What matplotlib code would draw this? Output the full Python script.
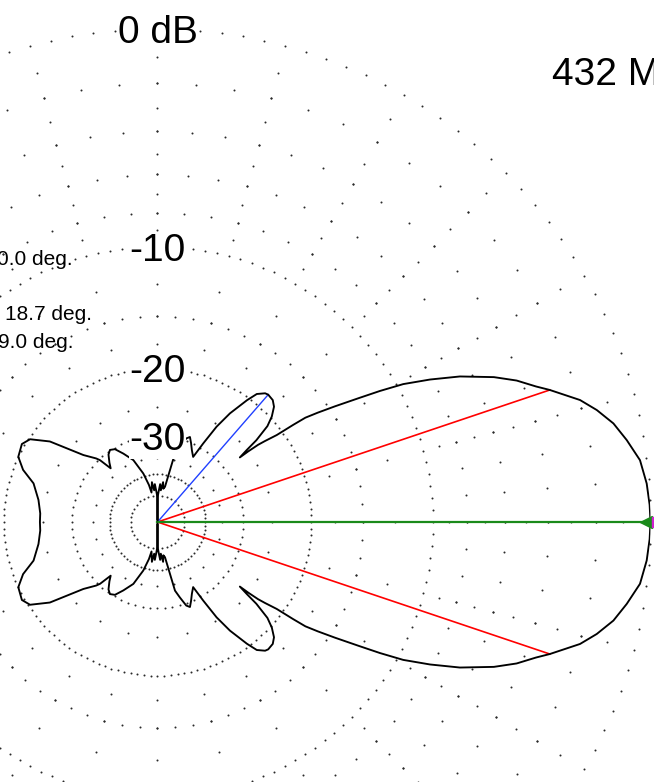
import numpy as np
import matplotlib
matplotlib.use("Agg")
import matplotlib.pyplot as plt
from matplotlib.transforms import offset_copy

plt.rcParams['font.family'] = ['Liberation Sans', 'DejaVu Sans']

# ---------------- data ----------------
# azimuth pattern (upper half, 0..180 deg), mirrored for the lower half
az_deg = [0, 2, 4.5, 7.3, 9.9, 12.2, 14.3, 16.1, 18.6, 19.7, 21.5, 23.3, 25.7,
          27.6, 29.3, 30.5, 31.6, 33.1, 34.3, 35.2, 35.6, 36.1, 37.0, 37.5,
          37.9, 38.1, 38.9, 39.6, 41.1, 42.7, 44.7, 46.6, 49.0, 50.1, 52.2,
          53.7, 56.3, 58.2, 59.8, 61.3, 64.4, 67.0, 69.1, 71.0, 73.5, 75.7,
          76.5, 78.0, 80.0, 82.0, 84.0, 86.0, 88.0, 89.5, 90.0, 90.5, 92.0,
          94.0, 96.0, 98.0, 100.0, 101.5, 103.0, 106.3, 111.3, 116.5, 120.3,
          123.4, 126.0, 129.0, 131.1, 132.9, 134.0, 137.9, 140.9, 143.2,
          147.0, 150.1, 154.9, 158.8, 162.7, 169.5, 175.8, 180.0]
gain_db = [0.0, -0.02, -0.08, -0.23, -0.59, -0.95, -1.44, -1.96, -3.0, -3.5,
           -4.2, -5.1, -6.6, -8.1, -9.6, -11.1, -12.6, -14.5, -16.0, -17.2,
           -18.6, -20.7, -22.3, -23.3, -25.0, -26.6, -25.0, -23.1, -20.9,
           -19.8, -18.9, -18.5, -18.4, -18.5, -19.1, -20.3, -22.8, -25.4,
           -29.0, -32.5, -31.3, -30.0, -29.0, -29.5, -31.5, -33.3, -38.0,
           -44.9, -46.0, -43.0, -47.0, -44.0, -48.0, -51.0, -99.0, -51.0,
           -48.0, -44.0, -47.0, -43.0, -46.0, -48.0, -44.0, -39.1, -34.4,
           -32.0, -30.3, -29.9, -30.5, -32.0, -33.2, -30.3, -29.5, -27.4,
           -24.7, -22.3, -20.2, -19.7, -20.0, -21.1, -22.9, -24.1, -24.6, -24.6]

ring_labels = ["0 dB", "-10", "-20", "-30"]
ring_label_db = [0, -10, -20, -30]

max_az, max_db = 0.0, 0.0
beam_az = [18.6, -18.6]
beam_db = -3.0
side_az, side_db = 49.0, -18.4

info_texts = ["0.0 deg.", "18.7 deg.", "9.0 deg."]
freq_text = "432 MHz"

# grid: (ring level dB, dot step deg)
grid_rings = [(0, 2.5), (-2, 5), (-4, 5), (-6, 5), (-8, 5), (-10, 2.5),
              (-15, 5), (-20, 2.5), (-30, 5), (-40, 5), (-50, 10)]
radial_dot_db = [-1, -2, -3, -4, -5, -6, -7, -8, -9, -12.5, -15, -17.5, -25, -35]
radial_step_deg = 15

# ---------------- figure ----------------
W, H = 654, 782
CX, CY, R0 = 157.5, 522.0, 493.0


def arrl(db):
    return 0.89 ** (-np.asarray(db, float) / 2.0)


fig = plt.figure(figsize=(W / 100, H / 100), dpi=100)
fig.patch.set_facecolor('white')
ax = fig.add_axes([(CX - R0) / W, (H - CY - R0) / H, 2 * R0 / W, 2 * R0 / H],
                  projection='polar')
ax.set_theta_zero_location('E')
ax.set_ylim(0, 1)
ax.axis('off')

# dotted grid
gth, gr = [], []
for lvl, step in grid_rings:
    a = np.arange(0, 360, step)
    gth.extend(np.radians(a)); gr.extend([arrl(lvl)] * len(a))
for a in np.arange(0, 360, radial_step_deg):
    for lvl in radial_dot_db:
        gth.append(np.radians(a)); gr.append(arrl(lvl))
ax.plot(gth, gr, linestyle='none', marker='o', ms=1.45, mew=0,
        color='#2a2a2a', zorder=1, clip_on=False)

# pattern
az = np.array(az_deg)
g = np.array(gain_db)
full_az = np.concatenate([az, 360 - az[::-1][1:]])
full_g = np.concatenate([g, g[::-1][1:]])
ax.plot(np.radians(full_az), arrl(full_g), color='black', lw=1.35, zorder=4)

# lines
for b in beam_az:
    ax.plot([0, np.radians(b)], [0, arrl(beam_db)], color='#ff0000', lw=1.2, zorder=3)
ax.plot([0, np.radians(side_az)], [0, arrl(side_db)], color='#2040ff', lw=1.0, zorder=3)
ax.plot([0, np.radians(max_az)], [0, arrl(max_db)], color='#1a8a1a', lw=1.6, zorder=3)
ax.plot([np.radians(max_az)], [arrl(max_db) * 0.991], marker='<', ms=8,
        color='#1a8a1a', zorder=5, clip_on=False)
ax.plot([np.radians(max_az)], [arrl(max_db) * 1.013], marker='s', ms=7,
        color='#d020d0', zorder=5, clip_on=False)

# ring labels
lab_tr = offset_copy(ax.transData, fig=fig, x=0, y=-14, units='dots')
for txt, lvl in zip(ring_labels, ring_label_db):
    ax.text(np.pi / 2, arrl(lvl), txt, transform=lab_tr, ha='center',
            va='baseline', fontsize=28, color='black', zorder=6,
            bbox=dict(facecolor='white', edgecolor='none', pad=0.5))

# info texts (cut at left edge as in the reference)
fig.text(-3 / W, 1 - 265 / H, info_texts[0], ha='left', va='baseline', fontsize=15)
fig.text(5 / W, 1 - 320.5 / H, info_texts[1], ha='left', va='baseline', fontsize=15)
fig.text(-2 / W, 1 - 348 / H, info_texts[2], ha='left', va='baseline', fontsize=15)
fig.text(551.5 / W, 1 - 85 / H, freq_text, ha='left', va='baseline', fontsize=28)

fig.savefig('out.png', dpi=100, facecolor='white')
